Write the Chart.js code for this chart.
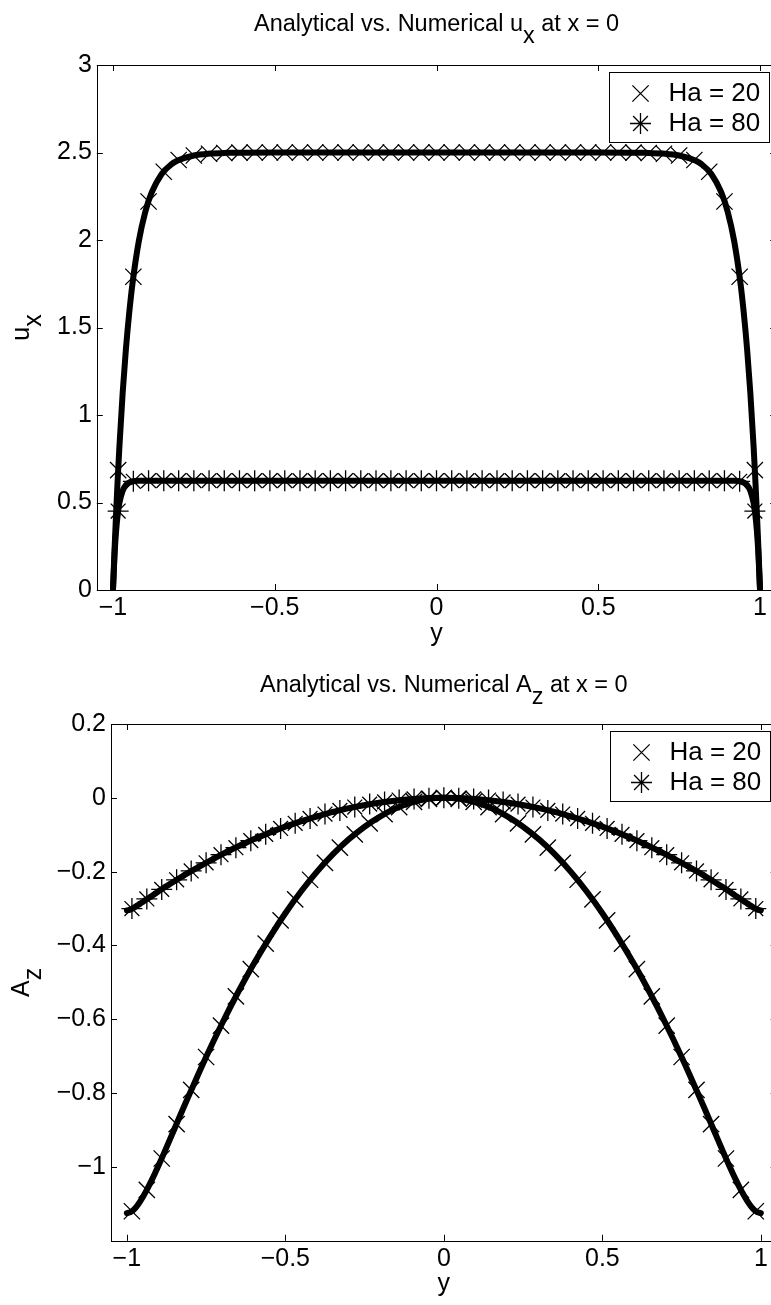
<!DOCTYPE html>
<html>
<head>
<meta charset="utf-8">
<script src="https://cdn.jsdelivr.net/npm/chart.js@4.4.1/dist/chart.umd.min.js"></script>
<style>
    html, body { margin: 0; padding: 0; background: #fff; overflow: hidden; width: 771px; height: 1305px; }
    canvas { position: absolute; left: 0; }
    #uxChart { top: 0; }
    #azChart { top: 650px; }
</style>
</head>
<body>
<canvas id="uxChart" width="790" height="650"></canvas>
<canvas id="azChart" width="790" height="655"></canvas>
<script>
// grid nodes of the numerical solution (one marker per node)
const yNodes = [
    -0.984, -0.937, -0.890, -0.843, -0.797, -0.750, -0.703, -0.656, -0.609, -0.562, -0.515,
    -0.469, -0.422, -0.375, -0.328, -0.281, -0.234, -0.187, -0.141, -0.094, -0.047, 0,
    0.047, 0.094, 0.141, 0.187, 0.234, 0.281, 0.328, 0.375, 0.422, 0.469,
    0.515, 0.562, 0.609, 0.656, 0.703, 0.750, 0.797, 0.843, 0.890, 0.937, 0.984
];

// y positions where the analytical curves are sampled (denser near the walls)
const yCurve = [
    -1, -0.995, -0.99, -0.985, -0.98, -0.97, -0.96, -0.95, -0.94, -0.92, -0.9, -0.88,
    -0.85, -0.82, -0.8, -0.75, -0.7, -0.65, -0.6, -0.5, -0.4, -0.3, -0.2, -0.1, 0,
    0.1, 0.2, 0.3, 0.4, 0.5, 0.6, 0.65, 0.7, 0.75, 0.8, 0.82, 0.85, 0.88,
    0.9, 0.92, 0.94, 0.95, 0.96, 0.97, 0.98, 0.985, 0.99, 0.995, 1
];

// u_x, numerical
const uxHa20Num = [
    0.685, 1.79, 2.22, 2.39, 2.457, 2.483, 2.493, 2.497, 2.499,
    2.5, 2.5, 2.5, 2.5, 2.5, 2.5, 2.5, 2.5, 2.5, 2.5,
    2.5, 2.5, 2.5, 2.5, 2.5, 2.5, 2.5, 2.5, 2.5, 2.5,
    2.5, 2.5, 2.5, 2.5, 2.5,
    2.499, 2.497, 2.493, 2.483, 2.457, 2.39, 2.22, 1.79, 0.685
];
const uxHa80Num = [
    0.451, 0.621,
    0.625, 0.625, 0.625, 0.625, 0.625, 0.625, 0.625, 0.625, 0.625, 0.625,
    0.625, 0.625, 0.625, 0.625, 0.625, 0.625, 0.625, 0.625, 0.625, 0.625,
    0.625, 0.625, 0.625, 0.625, 0.625, 0.625, 0.625, 0.625, 0.625, 0.625,
    0.625, 0.625, 0.625, 0.625, 0.625, 0.625, 0.625, 0.625, 0.625,
    0.621, 0.451
];

// u_x, analytical
const uxHa20Exact = [
    0, 0.238, 0.453, 0.648, 0.824, 1.128, 1.377, 1.580, 1.747, 1.995, 2.162, 2.273,
    2.376, 2.432, 2.454, 2.483, 2.494, 2.498, 2.499, 2.5, 2.5, 2.5, 2.5, 2.5, 2.5,
    2.5, 2.5, 2.5, 2.5, 2.5, 2.499, 2.498, 2.494, 2.483, 2.454, 2.432, 2.376,
    2.273, 2.162, 1.995, 1.747, 1.580, 1.377, 1.128, 0.824, 0.648, 0.453, 0.238, 0
];
const uxHa80Exact = [
    0, 0.206, 0.344, 0.437, 0.499, 0.568, 0.600, 0.614, 0.620, 0.624, 0.625, 0.625,
    0.625, 0.625, 0.625, 0.625, 0.625, 0.625, 0.625, 0.625, 0.625, 0.625, 0.625, 0.625, 0.625,
    0.625, 0.625, 0.625, 0.625, 0.625, 0.625, 0.625, 0.625, 0.625, 0.625, 0.625, 0.625,
    0.625, 0.625, 0.624, 0.620, 0.614, 0.600, 0.568, 0.499, 0.437, 0.344, 0.206, 0
];

// A_z, numerical
const azHa20Num = [
    -1.120, -1.062, -0.977, -0.884, -0.791, -0.702, -0.617, -0.538, -0.464, -0.395, -0.332,
    -0.275, -0.222, -0.176, -0.135, -0.099, -0.069, -0.044, -0.025, -0.011, -0.003, 0,
    -0.003, -0.011, -0.025, -0.044, -0.069, -0.099, -0.135, -0.176, -0.222, -0.275,
    -0.332, -0.395, -0.464, -0.538, -0.617, -0.702, -0.791, -0.884, -0.977, -1.062, -1.120
];
const azHa80Num = [
    -0.300, -0.274, -0.248, -0.222, -0.198, -0.176, -0.154, -0.135, -0.116, -0.099, -0.083,
    -0.069, -0.056, -0.044, -0.034, -0.025, -0.017, -0.011, -0.006, -0.003, -0.001, 0,
    -0.001, -0.003, -0.006, -0.011, -0.017, -0.025, -0.034, -0.044, -0.056, -0.069,
    -0.083, -0.099, -0.116, -0.135, -0.154, -0.176, -0.198, -0.222, -0.248, -0.274, -0.300
];

// A_z, analytical
const azHa20Exact = [
    -1.125, -1.124, -1.123, -1.120, -1.117, -1.108, -1.096, -1.082, -1.067, -1.033, -0.996, -0.957,
    -0.897, -0.837, -0.798, -0.702, -0.612, -0.528, -0.450, -0.3125, -0.200, -0.1125, -0.050, -0.0125, 0,
    -0.0125, -0.050, -0.1125, -0.200, -0.3125, -0.450, -0.528, -0.612, -0.702, -0.798, -0.837, -0.897,
    -0.957, -0.996, -1.033, -1.067, -1.082, -1.096, -1.108, -1.117, -1.120, -1.123, -1.124, -1.125
];
const azHa80Exact = [
    -0.305, -0.304, -0.303, -0.301, -0.299, -0.293, -0.288, -0.282, -0.276, -0.265, -0.253, -0.242,
    -0.226, -0.210, -0.200, -0.176, -0.153, -0.132, -0.1125, -0.078, -0.050, -0.028, -0.0125, -0.003, 0,
    -0.003, -0.0125, -0.028, -0.050, -0.078, -0.1125, -0.132, -0.153, -0.176, -0.200, -0.210, -0.226,
    -0.242, -0.253, -0.265, -0.276, -0.282, -0.288, -0.293, -0.299, -0.301, -0.303, -0.304, -0.305
];

const seriesLabels = ['Ha = 20', 'Ha = 80'];
const xTicks = [-1, -0.5, 0, 0.5, 1];
const uxTicks = [0, 0.5, 1, 1.5, 2, 2.5, 3];
const azTicks = [-1, -0.8, -0.6, -0.4, -0.2, 0, 0.2];

const FONT = "'Liberation Sans', Arial, Helvetica, sans-serif";
Chart.defaults.font.family = FONT;
Chart.defaults.color = '#000';

function toPoints(xs, ys) {
    return xs.map((x, i) => ({ x: x, y: ys[i] }));
}

function fmtTick(v) {
    return v < 0 ? '\u2212' + (-v) : String(v);
}

function exactLine(ys) {
    return {
        data: toPoints(yCurve, ys),
        borderColor: '#000',
        borderWidth: 6,
        borderCapStyle: 'round',
        borderJoinStyle: 'round',
        pointRadius: 0,
        pointHoverRadius: 0,
        cubicInterpolationMode: 'monotone',
        fill: false
    };
}

function numMarkers(ys, label, style, radius) {
    return {
        label: label,
        data: toPoints(yNodes, ys),
        showLine: false,
        pointStyle: style,
        pointRadius: radius,
        pointHoverRadius: radius,
        pointBorderWidth: 1.3,
        pointBorderColor: '#000',
        pointBackgroundColor: 'rgba(0,0,0,0)',
        borderColor: '#000',
        inLegend: true
    };
}

// text with a subscript: [base, sub, tail]
function drawSubscripted(ctx, parts, x, y, drop) {
    const w0 = ctx.measureText(parts[0]).width;
    const w1 = ctx.measureText(parts[1]).width;
    const w2 = parts[2] ? ctx.measureText(parts[2]).width : 0;
    const sx = x - (w0 + w1 + w2) / 2;
    ctx.textAlign = 'left';
    ctx.textBaseline = 'alphabetic';
    ctx.fillText(parts[0], sx, y);
    ctx.fillText(parts[1], sx + w0, y + drop);
    if (parts[2]) ctx.fillText(parts[2], sx + w0 + w1, y);
}

function legendSymbol(ctx, d, x, y) {
    if (Chart.helpers && Chart.helpers.drawPoint) {
        Chart.helpers.drawPoint(ctx, { pointStyle: d.pointStyle, radius: d.pointRadius, rotation: 0, borderWidth: d.pointBorderWidth }, x, y);
        return;
    }
    const r = d.pointRadius, q = r * Math.SQRT1_2;
    ctx.beginPath();
    ctx.moveTo(x - q, y - q); ctx.lineTo(x + q, y + q);
    ctx.moveTo(x + q, y - q); ctx.lineTo(x - q, y + q);
    if (d.pointStyle === 'star') {
        ctx.moveTo(x, y - r); ctx.lineTo(x, y + r);
        ctx.moveTo(x - r, y); ctx.lineTo(x + r, y);
    }
    ctx.stroke();
}

// MATLAB-like frame: box, inward ticks on all sides, boxed legend, titles with subscripts
const matlabAxes = {
    id: 'matlabAxes',
    afterDatasetsDraw(chart, args, opts) {
        const { ctx, chartArea: a } = chart;
        const xs = chart.scales.x, ys = chart.scales.y;
        const L = opts.tickLength;
        ctx.save();
        ctx.strokeStyle = '#000';
        ctx.lineWidth = 1;
        ctx.beginPath();
        xs.ticks.forEach(t => {
            const px = Math.round(xs.getPixelForValue(t.value)) + 0.5;
            ctx.moveTo(px, a.bottom); ctx.lineTo(px, a.bottom - L);
            ctx.moveTo(px, a.top); ctx.lineTo(px, a.top + L);
        });
        ys.ticks.forEach(t => {
            const py = Math.round(ys.getPixelForValue(t.value)) + 0.5;
            ctx.moveTo(a.left, py); ctx.lineTo(a.left + L, py);
            ctx.moveTo(a.right, py); ctx.lineTo(a.right - L, py);
        });
        ctx.stroke();
        ctx.strokeRect(Math.round(a.left) + 0.5, Math.round(a.top) + 0.5,
            Math.round(a.right - a.left), Math.round(a.bottom - a.top));

        // legend
        const lg = opts.legend;
        const bx = Math.round(a.right - lg.right - lg.width) + 0.5;
        const by = Math.round(a.top + lg.top) + 0.5;
        ctx.fillStyle = '#fff';
        ctx.fillRect(bx, by, lg.width, lg.height);
        ctx.strokeRect(bx, by, lg.width, lg.height);
        ctx.font = lg.fontSize + 'px ' + FONT;
        chart.data.datasets.filter(d => d.inLegend).forEach((d, i) => {
            const cy = by + lg.rowY[i];
            ctx.strokeStyle = '#000';
            ctx.fillStyle = 'rgba(0,0,0,0)';
            ctx.lineWidth = d.pointBorderWidth;
            legendSymbol(ctx, d, bx + lg.symbolX, cy);
            ctx.fillStyle = '#000';
            ctx.textAlign = 'left';
            ctx.textBaseline = 'middle';
            ctx.fillText(d.label, bx + lg.textX, cy);
        });
        ctx.restore();
    },
    afterDraw(chart, args, opts) {
        const { ctx, chartArea: a } = chart;
        ctx.save();
        ctx.fillStyle = '#000';
        ctx.font = opts.titleSize + 'px ' + FONT;
        drawSubscripted(ctx, opts.title, (a.left + a.right) / 2, a.top - opts.titleGap, opts.subDrop);
        ctx.font = opts.labelSize + 'px ' + FONT;
        ctx.translate(opts.yLabelX, (a.top + a.bottom) / 2);
        ctx.rotate(-Math.PI / 2);
        drawSubscripted(ctx, opts.yLabel, 0, 0, opts.subDrop);
        ctx.restore();
    }
};

function axesOptions(p) {
    return {
        responsive: false,
        animation: false,
        events: [],
        layout: { padding: { top: p.padTop, right: p.padRight, left: 0, bottom: 0 } },
        plugins: {
            legend: { display: false },
            tooltip: { enabled: false },
            matlabAxes: {
                tickLength: 6,
                title: p.title,
                yLabel: p.yLabel,
                titleSize: 23.5,
                labelSize: 25,
                titleGap: p.titleGap,
                subDrop: 12,
                yLabelX: 29,
                legend: { right: 7, top: 7, width: 160, height: 70, symbolX: 31, textX: 59, rowY: [21, 51], fontSize: 26 }
            }
        },
        scales: {
            x: {
                type: 'linear',
                min: -1.05,
                max: 1.05,
                grid: { display: false, drawTicks: false },
                border: { display: false },
                afterBuildTicks: s => { s.ticks = xTicks.map(v => ({ value: v })); },
                afterFit: s => { s.height = p.xBoxHeight; },
                ticks: { font: { size: 25 }, padding: 3, maxRotation: 0, autoSkip: false, callback: fmtTick },
                title: { display: true, text: 'y', font: { size: 25 }, padding: { top: 0, bottom: p.xTitlePad } }
            },
            y: {
                type: 'linear',
                min: p.yMin,
                max: p.yMax,
                grid: { display: false, drawTicks: false },
                border: { display: false },
                afterBuildTicks: s => { s.ticks = p.yTicks.map(v => ({ value: v })); },
                afterFit: s => { s.width = p.yBoxWidth; },
                ticks: { font: { size: 25 }, padding: 5, autoSkip: false, callback: fmtTick }
            }
        }
    };
}

// u_x at x = 0
new Chart(document.getElementById('uxChart').getContext('2d'), {
    type: 'line',
    plugins: [matlabAxes],
    data: {
        datasets: [
            exactLine(uxHa20Exact),
            exactLine(uxHa80Exact),
            numMarkers(uxHa20Num, seriesLabels[0], 'crossRot', 11.5),
            numMarkers(uxHa80Num, seriesLabels[1], 'star', 10.5)
        ]
    },
    options: axesOptions({
        padTop: 65, padRight: 13.8, yBoxWidth: 96.8, xBoxHeight: 60, xTitlePad: 1, titleGap: 34,
        yMin: 0, yMax: 3, yTicks: uxTicks,
        title: ['Analytical vs. Numerical u', 'x', ' at x = 0'],
        yLabel: ['u', 'x', '']
    })
});

// A_z at x = 0
new Chart(document.getElementById('azChart').getContext('2d'), {
    type: 'line',
    plugins: [matlabAxes],
    data: {
        datasets: [
            exactLine(azHa20Exact),
            exactLine(azHa80Exact),
            numMarkers(azHa20Num, seriesLabels[0], 'crossRot', 11.5),
            numMarkers(azHa80Num, seriesLabels[1], 'star', 10.5)
        ]
    },
    options: axesOptions({
        padTop: 74, padRight: 13.3, yBoxWidth: 111, xBoxHeight: 64.2, xTitlePad: 6, titleGap: 32.5,
        yMin: -1.2, yMax: 0.2, yTicks: azTicks,
        title: ['Analytical vs. Numerical A', 'z', ' at x = 0'],
        yLabel: ['A', 'z', '']
    })
});
</script>
</body>
</html>
